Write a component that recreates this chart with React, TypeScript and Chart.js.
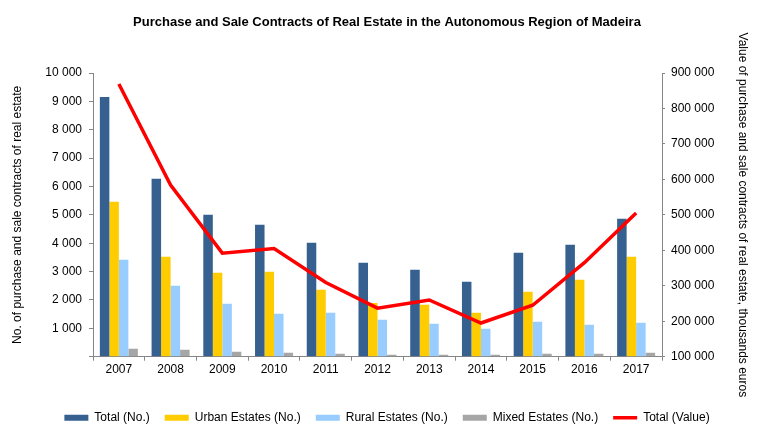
import React, { useEffect, useRef } from "react";
import { Chart, registerables } from "chart.js";

Chart.register(...registerables);

const years = ["2007", "2008", "2009", "2010", "2011", "2012", "2013", "2014", "2015", "2016", "2017"];
const totalNo = [9150, 6270, 5000, 4650, 4015, 3310, 3065, 2640, 3660, 3945, 4860];
const urbanNo = [5460, 3520, 2960, 2990, 2360, 1890, 1830, 1550, 2290, 2710, 3520];
const ruralNo = [3415, 2500, 1865, 1515, 1550, 1300, 1160, 985, 1230, 1125, 1195];
const mixedNo = [280, 245, 175, 140, 105, 70, 70, 70, 105, 105, 140];
const totalValue = [869000, 584000, 392000, 405000, 309000, 237000, 260000, 195000, 245000, 365000, 505000];

const fmt = (v: number) => String(Math.round(v)).replace(/\B(?=(\d{3})+(?!\d))/g, " ");

const FONT = "'Liberation Sans', Arial, sans-serif";
const AXIS = "#868686";

export default function App() {
  const ref = useRef<HTMLCanvasElement | null>(null);
  useEffect(() => {
    if (!ref.current) return;
    const chart = new Chart(ref.current, {
      type: "bar",
      data: {
        labels: years,
        datasets: [
          { type: "bar", label: "Total (No.)", data: totalNo, backgroundColor: "#35608F", borderWidth: 0, yAxisID: "y", order: 1 },
          { type: "bar", label: "Urban Estates (No.)", data: urbanNo, backgroundColor: "#FFCC00", borderWidth: 0, yAxisID: "y", order: 2 },
          { type: "bar", label: "Rural Estates (No.)", data: ruralNo, backgroundColor: "#99CCFF", borderWidth: 0, yAxisID: "y", order: 3 },
          { type: "bar", label: "Mixed Estates (No.)", data: mixedNo, backgroundColor: "#A6A6A6", borderWidth: 0, yAxisID: "y", order: 4 },
          {
            type: "line", label: "Total (Value)", data: totalValue, borderColor: "#FF0000", backgroundColor: "#FF0000",
            borderWidth: 3.5, pointRadius: 0, tension: 0, yAxisID: "y1", order: 0,
          },
        ],
      } as any,
      options: {
        animation: false,
        responsive: false,
        maintainAspectRatio: false,
        layout: { padding: { left: 0, right: 0, top: 0, bottom: 8.3 } },
        datasets: { bar: { categoryPercentage: 0.735, barPercentage: 1.0 } } as any,
        plugins: {
          tooltip: { enabled: false },
          title: {
            display: true,
            text: "Purchase and Sale Contracts of Real Estate in the Autonomous Region of Madeira",
            color: "#000",
            font: { family: FONT, size: 13, weight: "bold" },
            padding: { top: 14.2, bottom: 43.2 },
          },
          legend: {
            position: "bottom",
            labels: {
              color: "#000",
              font: { family: FONT, size: 12 },
              usePointStyle: true,
              pointStyleWidth: 24,
              boxHeight: 6,
              padding: 15,
              sort: (a: any, b: any) => a.datasetIndex - b.datasetIndex,
              generateLabels: (chart: any) => {
                const items = Chart.defaults.plugins.legend.labels.generateLabels(chart);
                return items.map((it: any) => {
                  if (it.datasetIndex === 4) {
                    return { ...it, pointStyle: "line", lineWidth: 3.5, strokeStyle: "#FF0000" };
                  }
                  return { ...it, pointStyle: "rect", lineWidth: 0 };
                });
              },
            },
          },
        },
        scales: {
          x: {
            offset: true,
            grid: { display: true, drawOnChartArea: false, drawTicks: true, tickLength: 4, color: AXIS, offset: true },
            border: { display: true, color: AXIS },
            ticks: { color: "#000", font: { family: FONT, size: 12 }, padding: 2, maxRotation: 0 },
            afterFit: (s: any) => { s.height = 40; },
          },
          y: {
            position: "left",
            min: 0,
            max: 10000,
            grid: { display: true, drawOnChartArea: false, drawTicks: true, tickLength: 4, color: AXIS },
            border: { display: true, color: AXIS },
            ticks: {
              stepSize: 1000,
              color: "#000",
              font: { family: FONT, size: 12 },
              padding: 7,
              callback: (v: any) => (Number(v) === 0 ? "" : fmt(Number(v))),
            },
            title: {
              display: true,
              text: "No. of purchase and sale contracts of real estate",
              color: "#000",
              font: { family: FONT, size: 12 },
              padding: { top: 10.8, bottom: 0 },
            },
            afterFit: (s: any) => { s.width = 93; },
          },
          y1: {
            position: "right",
            min: 100000,
            max: 900000,
            grid: { display: true, drawOnChartArea: false, drawTicks: true, tickLength: 3, color: AXIS },
            border: { display: true, color: AXIS },
            ticks: {
              stepSize: 100000,
              color: "#000",
              font: { family: FONT, size: 12 },
              padding: 6,
              callback: (v: any) => fmt(Number(v)),
            },
            title: {
              display: true,
              text: "Value of purchase and sale contracts of real estate, thousands euros",
              color: "#000",
              font: { family: FONT, size: 12 },
              padding: { top: 24.8, bottom: 0 },
            },
            afterFit: (s: any) => { s.width = 112; },
          },
        },
      } as any,
    });
    return () => chart.destroy();
  }, []);
  return (
    <div style={{ position: "fixed", left: 0, top: 0, width: 774, height: 442, background: "#fff" }}>
      <canvas ref={ref} width={774} height={442} style={{ width: 774, height: 442, display: "block" }} />
    </div>
  );
}
